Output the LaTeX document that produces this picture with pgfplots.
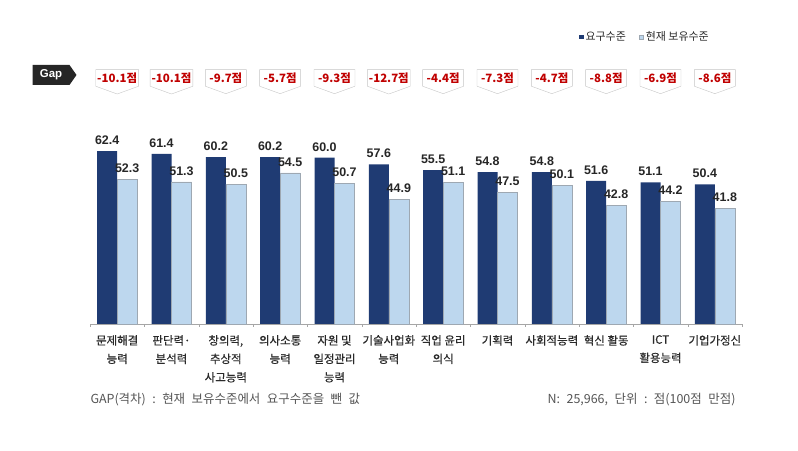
\documentclass[border=0pt]{standalone}
\usepackage{pgfplots}
\pgfplotsset{compat=1.18}
\usepackage{pgfplotstable}
\usepackage{fontspec}
\setmainfont{Noto Sans CJK KR}
\newfontfamily\krmed[FakeBold=0.5]{Noto Sans CJK KR}
\newfontfamily\arial{Liberation Sans}
\usetikzlibrary{shapes.symbols}
\definecolor{navy}{HTML}{1F3B73}
\definecolor{lblue}{HTML}{BDD7EE}
\definecolor{lborder}{HTML}{9EA8B2}
\definecolor{gapred}{HTML}{C00000}
\definecolor{txt}{HTML}{2A2A2A}
\definecolor{foot}{HTML}{555555}

\pgfplotstableread{
x req cur gapy gap
1 62.4 52.3 88.8 -10.1점
2 61.4 51.3 88.8 -10.1점
3 60.2 50.5 88.8 -9.7점
4 60.2 54.5 88.8 -5.7점
5 60.0 50.7 88.8 -9.3점
6 57.6 44.9 88.8 -12.7점
7 55.5 51.1 88.8 -4.4점
8 54.8 47.5 88.8 -7.3점
9 54.8 50.1 88.8 -4.7점
10 51.6 42.8 88.8 -8.8점
11 51.1 44.2 88.8 -6.9점
12 50.4 41.8 88.8 -8.6점
}\data

\begin{document}
\begin{tikzpicture}[x=1bp,y=1bp]
\path[use as bounding box] (0,0) rectangle (798,451);
\begin{axis}[
  at={(90bp,127bp)}, anchor=south west,
  scale only axis, width=652bp, height=194bp,
  ymin=0, ymax=70, xmin=0.5, xmax=12.5,
  clip=false,
  ybar, bar width=20bp,
  axis x line*=bottom, axis y line=none,
  axis line style={draw=gray!70},
  xtick={1,...,12}, major tick length=0pt,
  xticklabels={{문제해결\\능력},{판단력·\\분석력},{창의력,\\추상적\\사고능력},{의사소통\\능력},{자원 및\\일정관리\\능력},{기술사업화\\능력},{직업 윤리\\의식},{기획력},{사회적능력},{혁신 활동},{ICT\\활용능력},{기업가정신}},
  xticklabel style={align=center, font=\krmed\fontsize{11.5}{18.5}\selectfont, text=txt, inner sep=0pt, yshift=-11bp},
  extra x ticks={0.5,1.5,...,12.5}, extra x tick labels={},
  extra x tick style={major tick length=3bp, tick align=outside, tick style={draw=gray!70}},
  point meta=explicit symbolic,
  nodes near coords,
  every node near coord/.append style={font=\arial\bfseries\fontsize{12.5}{14}\selectfont, text=black!85, yshift=3bp},
  legend columns=2,
  legend style={draw=none, at={(axis description cs:0.957,1.479)}, anchor=east,
    font=\fontsize{11}{12}\selectfont, text=txt,
    /tikz/every even column/.append style={column sep=11bp}},
  legend image code/.code={\path[#1] (0bp,-2.3bp) rectangle (4.6bp,2.3bp);},
]
\addplot[fill=navy, draw=none, bar shift=-10bp] table[x=x, y=req, meta=req] {\data};
\addlegendentry{요구수준}
\addplot[fill=lblue, draw=lborder, bar shift=10bp] table[x=x, y=cur, meta=cur] {\data};
\addlegendentry{현재 보유수준}
\addplot[draw=none, fill=none, bar shift=0pt, forget plot,
  every node near coord/.style={shape=signal, signal to=south, signal pointer angle=140,
    draw=gray!45, fill=white, text=gapred, anchor=center,
    font=\bfseries\fontsize{11.5}{12}\selectfont, inner xsep=1.5bp, inner ysep=3bp, minimum width=41bp}]
  table[x=x, y=gapy, meta=gap] {\data};
\end{axis}
\node[shape=signal, signal to=east, signal pointer angle=110, fill=black!85, text=white,
  font=\arial\bfseries\fontsize{11.5}{12}\selectfont, minimum width=44bp, minimum height=20bp, inner sep=1bp]
  at (51,376) {Gap};
\node[anchor=west, text=foot, font=\fontsize{12.5}{14}\selectfont] at (87,51) {GAP(격차)\hspace{6.5bp}:\hspace{6.5bp}현재\hspace{6.5bp}보유수준에서\hspace{6.5bp}요구수준을\hspace{6.5bp}뺀\hspace{6.5bp}값};
\node[anchor=east, text=foot, font=\fontsize{12.5}{14}\selectfont] at (739,51) {N:\hspace{6.5bp}25,966,\hspace{6.5bp}단위\hspace{6.5bp}:\hspace{6.5bp}점(100점\hspace{6.5bp}만점)};
\end{tikzpicture}
\end{document}
